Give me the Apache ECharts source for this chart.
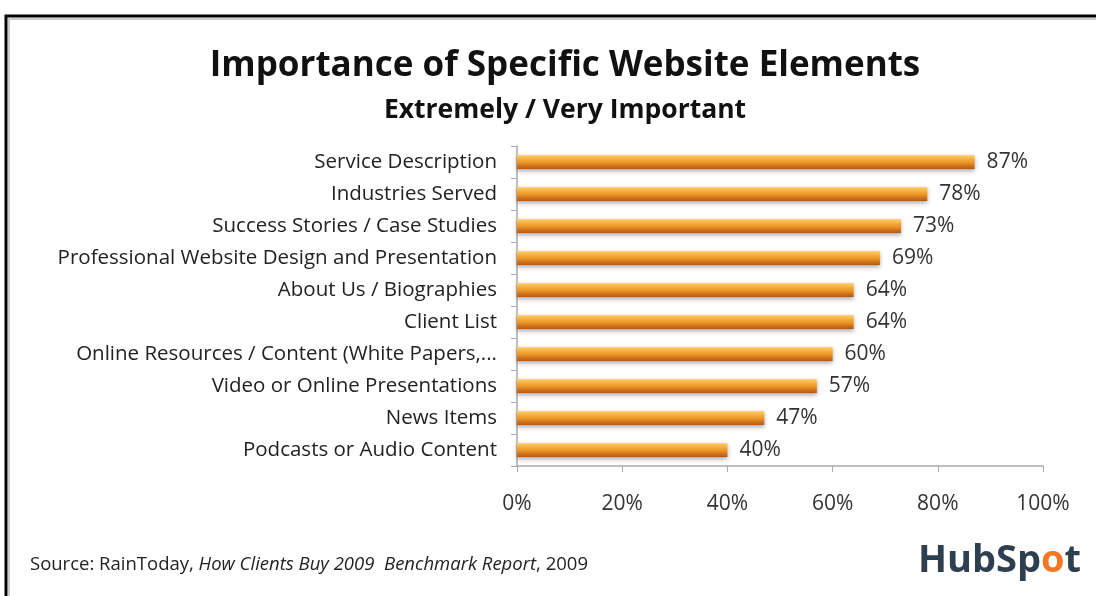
<!DOCTYPE html>
<html><head><meta charset="utf-8">
<script src="https://cdn.jsdelivr.net/npm/echarts@6/dist/echarts.min.js"></script>
<style>html,body{margin:0;padding:0;background:#fff}#c{width:1096px;height:596px}</style>
</head><body><div id="c"></div>
<script>
const categories = [
  "Service Description",
  "Industries Served",
  "Success Stories / Case Studies",
  "Professional Website Design and Presentation",
  "About Us / Biographies",
  "Client List",
  "Online Resources / Content (White Papers,...",
  "Video or Online Presentations",
  "News Items",
  "Podcasts or Audio Content"
];
const values = [87, 78, 73, 69, 64, 64, 60, 57, 47, 40];
const tickLabels = ["0%", "20%", "40%", "60%", "80%", "100%"];

const chart = echarts.init(document.getElementById('c'));
const font = "'Open Sans', sans-serif";
chart.setOption({
  backgroundColor: '#fff',
  animation: false,
  title: [
    {text: 'Importance of Specific Website Elements', left: 560, top: 44, textAlign: 'center',
     textStyle: {fontFamily: font, fontSize: 35, fontWeight: 'bold', color: '#111'}},
    {text: 'Extremely / Very Important', left: 560, top: 92, textAlign: 'center',
     textStyle: {fontFamily: font, fontSize: 26.5, fontWeight: 'bold', color: '#111'}}
  ],
  grid: {left: 517, right: 53, top: 146, bottom: 130},
  xAxis: {
    type: 'value', min: 0, max: 100, interval: 20,
    axisLine: {show: true, lineStyle: {color: '#aaa', width: 1.5}},
    axisTick: {show: true, length: 6, lineStyle: {color: '#aaa'}},
    splitLine: {show: false},
    axisLabel: {margin: 28, fontFamily: font, fontSize: 21, color: '#333',
      formatter: v => tickLabels[v / 20]}
  },
  yAxis: {
    type: 'category', data: categories, inverse: true,
    axisLine: {show: true, lineStyle: {color: '#aaa', width: 1.5}},
    axisTick: {show: true, length: 6, lineStyle: {color: '#aaa'}},
    axisLabel: {margin: 20, fontFamily: font, fontSize: 20.5, color: '#222'}
  },
  series: [{
    type: 'bar', data: values, barWidth: 14,
    itemStyle: {
      color: new echarts.graphic.LinearGradient(0, 0, 0, 1, [
        {offset: 0, color: '#fbd084'},
        {offset: 0.25, color: '#f9b53c'},
        {offset: 0.6, color: '#e88c22'},
        {offset: 1, color: '#a95818'}
      ]),
      shadowColor: 'rgba(0,0,0,0.35)', shadowBlur: 4, shadowOffsetY: 2
    },
    label: {show: true, position: 'right', distance: 12, formatter: '{c}%',
      fontFamily: font, fontSize: 21, color: '#333'}
  }],
  graphic: [
    {type: 'rect', shape: {x: 6, y: 16, width: 1200, height: 700},
     style: {fill: 'none', stroke: '#000', lineWidth: 3}},
    {type: 'rect', shape: {x: 9, y: 19, width: 1200, height: 700},
     style: {fill: 'none', stroke: '#ccc', lineWidth: 2}},
    {type: 'text', left: 30, top: 555, style: {
      rich: {n: {fontFamily: font, fontSize: 18.5, fill: '#222'}, i: {fontFamily: font, fontSize: 18.5, fontStyle: 'italic', fill: '#222'}},
      text: '{n|Source: RainToday, }{i|How Clients Buy 2009  Benchmark Report}{n|, 2009}'}},
    {type: 'text', left: 918, top: 542, style: {
      rich: {d: {fontFamily: font, fontSize: 38, fontWeight: 'bold', fill: '#2e3f50'},
             o: {fontFamily: font, fontSize: 38, fontWeight: 'bold', fill: '#f57722'}},
      text: '{d|HubSp}{o|o}{d|t}'}}
  ]
});
</script></body></html>
